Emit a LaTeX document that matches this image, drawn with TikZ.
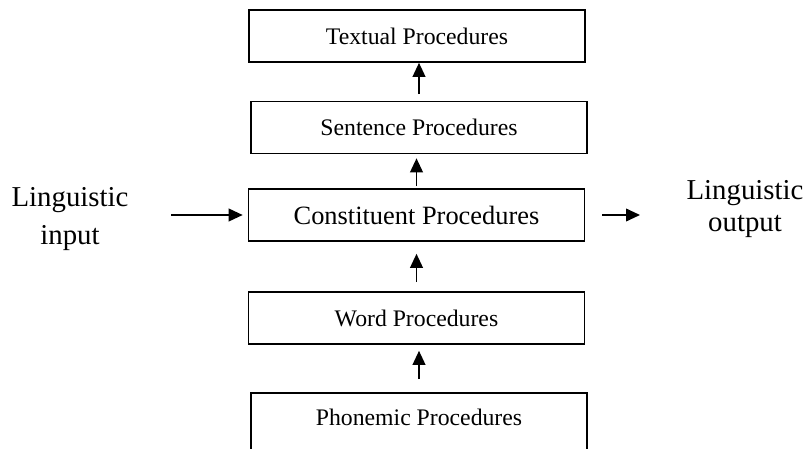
\documentclass[tikz,border=0pt]{standalone}
\usepackage{fontspec}
\setmainfont{Liberation Serif}
\usetikzlibrary{arrows.meta}

\begin{document}
\begin{tikzpicture}[x=0.75pt, y=-0.75pt]

    \tikzstyle{proc}=[draw=black, line width=1.2pt, minimum width=252pt, minimum height=39pt, inner sep=0pt, font=\fontsize{17.8}{21}\selectfont];
    \tikzstyle{side}=[align=center, inner sep=0pt, font=\fontsize{21.6}{28.5}\selectfont];
    \tikzstyle{arr}=[-{Triangle[length=10.5pt, width=9.5pt]}, line width=1.3pt];

    \useasboundingbox (0,0) rectangle (809,449);
    \clip (0,0) rectangle (809,449);

    \node[proc] (textual) at (417, 36) {Textual Procedures};
    \node[proc] (sentence) at (419, 127.5) {Sentence Procedures};
    \node[proc, font=\fontsize{19.8}{23}\selectfont] (constituent) at (416.5, 215) {Constituent Procedures};
    \node[proc] (word) at (416.5, 318) {Word Procedures};
    \node[proc, anchor=north, minimum height=0pt, text height=24.75pt, text depth=40pt] (phonemic) at (419, 392) {Phonemic Procedures};

    \node[side] (input) at (70, 219) {Linguistic\\input};
    \node[side, font=\fontsize{21.6}{24}\selectfont] (output) at (745, 209) {Linguistic\\output};

    \coordinate (in) at (171, 215);
    \coordinate (out) at (640, 215);

    \draw (sentence.north) edge[arr, shorten <=5pt] (sentence.north |- textual.south);
    \draw (constituent.north) edge[arr, shorten <=1.5pt, shorten >=3pt] (constituent.north |- sentence.south);
    \draw (word.north) edge[arr, shorten <=6.75pt, shorten >=9pt] (word.north |- constituent.south);
    \draw (phonemic.north) edge[arr, shorten <=9.75pt, shorten >=4.5pt] (phonemic.north |- word.south);

    \draw (in) edge[arr, shorten >=3.75pt] (constituent.west);
    \draw (constituent.east) edge[arr, shorten <=12.75pt] (out);
\end{tikzpicture}
\end{document}
